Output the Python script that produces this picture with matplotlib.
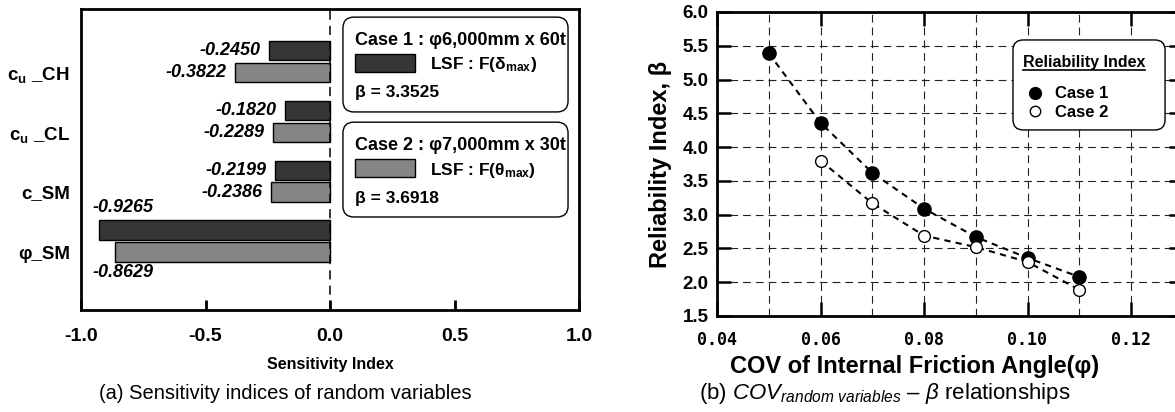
import numpy as np
import matplotlib
matplotlib.use('Agg')
import matplotlib.pyplot as plt
from matplotlib.patches import FancyBboxPatch, Rectangle
from matplotlib.lines import Line2D
from matplotlib.ticker import MultipleLocator, FormatStrFormatter

plt.rcParams['font.family'] = ['Liberation Sans', 'DejaVu Sans']
plt.rcParams['font.weight'] = 'bold'
plt.rcParams['mathtext.fontset'] = 'custom'
plt.rcParams['mathtext.rm'] = 'Liberation Sans:weight=normal'
plt.rcParams['mathtext.it'] = 'Liberation Sans:style=italic:weight=normal'
plt.rcParams['mathtext.bf'] = 'Liberation Sans:weight=bold'

# (a) sensitivity indices
variables = [r'c$_{\mathbf{u}}$ _CH', r'c$_{\mathbf{u}}$ _CL', 'c_SM', 'φ_SM']
sens_case1 = [-0.2450, -0.1820, -0.2199, -0.9265]
sens_case2 = [-0.3822, -0.2289, -0.2386, -0.8629]
case_titles = ['Case 1 : φ6,000mm x 60t', 'Case 2 : φ7,000mm x 30t']
case_lsf = [r'LSF : F(δ$_{\mathbf{max}}$)', r'LSF : F(θ$_{\mathbf{max}}$)']
case_beta = [3.3525, 3.6918]

# (b) reliability index vs COV of friction angle
cov_case1 = [0.05, 0.06, 0.07, 0.08, 0.09, 0.10, 0.11]
beta_case1 = [5.39, 4.36, 3.62, 3.09, 2.67, 2.36, 2.08]
cov_case2 = [0.06, 0.07, 0.08, 0.09, 0.10, 0.11]
beta_case2 = [3.80, 3.17, 2.69, 2.52, 2.30, 1.89]
series_names = ['Case 1', 'Case 2']

col1 = '#363636'
col2 = '#858585'

fig = plt.figure(figsize=(11.75, 4.12), dpi=100)

# ---------------- left panel ----------------
ax1 = fig.add_axes([81 / 1175, 1 - 310 / 412, 498 / 1175, 301 / 412])
ypos = np.arange(len(variables))[::-1].astype(float)
off, h = 0.183, 0.32
ax1.barh(ypos + off, sens_case1, height=h, color=col1, edgecolor='black', lw=1)
ax1.barh(ypos - off, sens_case2, height=h, color=col2, edgecolor='black', lw=1)
ax1.axvline(0, color='black', lw=1.1, ls=(0, (6, 4)))
ax1.set_xlim(-1.0, 1.0)
ax1.set_ylim(-1.15, 3.87)
ax1.set_xticks([-1.0, -0.5, 0.0, 0.5, 1.0])
ax1.xaxis.set_major_formatter(FormatStrFormatter('%.1f'))
ax1.set_yticks(ypos - off)
ax1.set_yticklabels(variables)
ax1.tick_params(axis='x', direction='in', length=7, width=2, labelsize=14, pad=13)
ax1.tick_params(axis='y', length=0, labelsize=13.5, pad=8)
for s in ax1.spines.values():
    s.set_linewidth(2)

lab_kw = dict(fontsize=13, fontweight='bold', style='italic', textcoords='offset points')
for i in range(len(variables)):
    if i == len(variables) - 1:
        ax1.annotate(f'{sens_case1[i]:.4f}', (sens_case1[i], ypos[i] + off), xytext=(-5, 16),
                     ha='left', va='center', **lab_kw)
        ax1.annotate(f'{sens_case2[i]:.4f}', (sens_case2[i], ypos[i] - off), xytext=(-16, -15),
                     ha='left', va='center', **lab_kw)
    else:
        ax1.annotate(f'{sens_case1[i]:.4f}', (sens_case1[i], ypos[i] + off), xytext=(-6, 0),
                     ha='right', va='center', **lab_kw)
        ax1.annotate(f'{sens_case2[i]:.4f}', (sens_case2[i], ypos[i] - off), xytext=(-6, 0),
                     ha='right', va='center', **lab_kw)

ax1.set_xlabel('Sensitivity Index', fontsize=11.5, fontweight='bold')
ax1.xaxis.set_label_coords(0.5, -0.156)

# case boxes
for k, (title, lsf, beta, col) in enumerate(zip(case_titles, case_lsf, case_beta, [col1, col2])):
    dy = k * 0.349
    top = 0.973 - dy
    box = FancyBboxPatch((0.526, top - 0.315), 0.452, 0.315, transform=ax1.transAxes,
                         boxstyle='round,pad=0,rounding_size=0.022', mutation_aspect=1.65,
                         fc='white', ec='black', lw=1)
    ax1.add_patch(box)
    ax1.text(0.550, 0.897 - dy, title, transform=ax1.transAxes, fontsize=13,
             ha='left', va='center')
    ax1.add_patch(Rectangle((0.550, 0.791 - dy), 0.121, 0.059, transform=ax1.transAxes,
                            fc=col, ec='black', lw=1))
    ax1.text(0.701, 0.814 - dy, lsf, transform=ax1.transAxes, fontsize=12.5,
             ha='left', va='center')
    ax1.text(0.550, 0.721 - dy, f'β = {beta:.4f}', transform=ax1.transAxes, fontsize=12.5,
             ha='left', va='center')

fig.text(285 / 1175, 1 - 399 / 412, '(a) Sensitivity indices of random variables',
         fontsize=14.5, fontweight='normal', ha='center', va='baseline')

# ---------------- right panel ----------------
ax2 = fig.add_axes([717 / 1175, 1 - 316 / 412, 465.75 / 1175, 304 / 412])
dash = (0, (3, 2.5))
ax2.plot(cov_case1, beta_case1, ls=dash, color='black', lw=1.5, marker='o', ms=9.5,
         mfc='black', mec='black', zorder=3)
ax2.plot(cov_case2, beta_case2, ls=dash, color='black', lw=1.5, marker='o', ms=8.5,
         mfc='white', mec='black', mew=1, zorder=3)
ax2.set_xlim(0.04, 0.13)
ax2.set_ylim(1.5, 6.0)
ax2.xaxis.set_major_locator(MultipleLocator(0.02))
ax2.xaxis.set_minor_locator(MultipleLocator(0.01))
ax2.yaxis.set_major_locator(MultipleLocator(0.5))
ax2.xaxis.set_major_formatter(FormatStrFormatter('%.2f'))
ax2.yaxis.set_major_formatter(FormatStrFormatter('%.1f'))
gkw = dict(color='#222222', lw=0.8, ls=(0, (7, 4.5)))
ax2.grid(which='both', axis='x', **gkw)
ax2.grid(which='major', axis='y', **gkw)
ax2.set_axisbelow(True)
ax2.tick_params(which='major', direction='in', length=10, width=1.8, top=True, right=True)
ax2.tick_params(which='minor', length=0)
ax2.tick_params(axis='x', labelsize=12, pad=11, labelfontfamily='DejaVu Sans Mono')
ax2.tick_params(axis='y', labelsize=13.5, pad=6)
for s in ax2.spines.values():
    s.set_linewidth(2)

fig.text(730 / 1175, 1 - 373 / 412, 'COV of Internal Friction Angle(φ)', fontsize=17,
         fontweight='bold', ha='left', va='baseline')
ax2.set_ylabel('Reliability Index, β', fontsize=17, fontweight='bold')
ax2.yaxis.set_label_coords(-0.097, 0.5)

# legend box
ax2.add_patch(FancyBboxPatch((0.6355, 0.612), 0.3265, 0.296, transform=ax2.transAxes,
                             boxstyle='round,pad=0,rounding_size=0.022', mutation_aspect=1.53,
                             fc='white', ec='black', lw=1, zorder=4))
leg_title = ax2.text(0.657, 0.819, 'Reliability Index', transform=ax2.transAxes,
                     fontsize=11.5, fontweight='bold', ha='left', va='baseline', zorder=5)
h1 = Line2D([], [], ls='none', marker='o', ms=8.5, mfc='black', mec='black')
h2 = Line2D([], [], ls='none', marker='o', ms=7.5, mfc='white', mec='black')
leg = ax2.legend([h1, h2], series_names, loc='upper left', bbox_to_anchor=(0.665, 0.755),
                 borderaxespad=0, borderpad=0, frameon=False,
                 prop={'weight': 'bold', 'size': 12},
                 handlelength=1, handletextpad=0.7, labelspacing=0.22)
leg.set_zorder(6)

fig.text(885 / 1175, 1 - 399 / 412,
         r'(b) $COV_{random\ variables}$ – $\beta$ relationships',
         fontsize=16, fontweight='normal', ha='center', va='baseline')

# underline the legend title
fig.canvas.draw()
bb = leg_title.get_window_extent().transformed(ax2.transAxes.inverted())
ax2.add_line(Line2D([bb.x0, bb.x1], [0.809, 0.809], color='black', lw=1.2,
                    transform=ax2.transAxes, zorder=5))

fig.savefig('out.png', dpi=100)
